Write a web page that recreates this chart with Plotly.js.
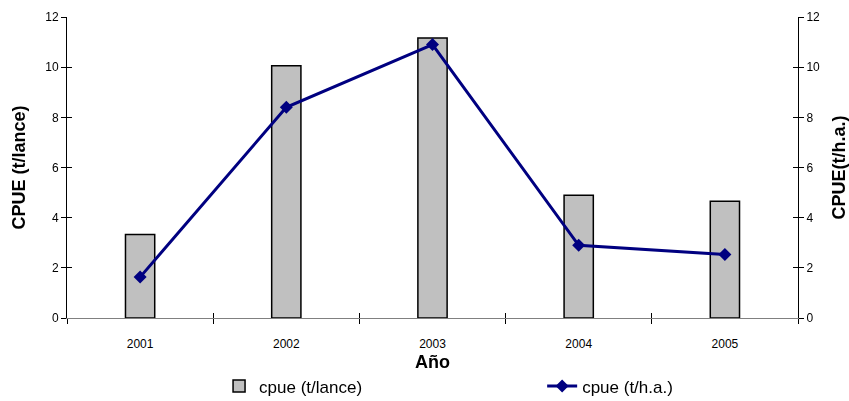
<!DOCTYPE html>
<html>
<head>
<meta charset="utf-8">
<script src="https://cdn.plot.ly/plotly-3.0.1.min.js"></script>
<style>html,body{margin:0;padding:0;background:#fff;}#chart{width:849px;height:401px;}</style>
</head>
<body>
<div id="chart"></div>
<script>
const years = ['2001', '2002', '2003', '2004', '2005'];
const cpueLance = [3.33, 10.06, 11.16, 4.89, 4.65];
const cpueHa = [1.63, 8.40, 10.90, 2.90, 2.53];
const yTicks = [0, 2, 4, 6, 8, 10, 12];

const FONT = 'Liberation Sans, Arial, sans-serif';

const traces = [
  {
    type: 'bar', name: 'cpue (t/lance)', x: years, y: cpueLance,
    xaxis: 'x', yaxis: 'y', width: 0.2, legend: 'legend',
    marker: {color: '#c0c0c0', line: {color: '#000000', width: 1.5}},
    hoverinfo: 'skip'
  },
  {
    type: 'scatter', mode: 'lines+markers', name: 'cpue (t/h.a.)', x: years, y: cpueHa,
    xaxis: 'x', yaxis: 'y2', legend: 'legend2',
    line: {color: '#000080', width: 3},
    marker: {symbol: 'diamond', size: 10, color: '#000080'},
    hoverinfo: 'skip'
  },
  {
    type: 'scatter', mode: 'markers', x: years, y: cpueLance, xaxis: 'x2', yaxis: 'y3',
    opacity: 0, showlegend: false, hoverinfo: 'skip'
  },
  {
    type: 'scatter', mode: 'markers', x: years, y: cpueHa, xaxis: 'x', yaxis: 'y4',
    opacity: 0, showlegend: false, hoverinfo: 'skip'
  }
];

const yBase = {
  range: [0, 12], tickvals: yTicks, ticktext: yTicks.map(String),
  showgrid: false, zeroline: false, fixedrange: true,
  tickfont: {family: FONT, size: 12, color: '#000'}
};

const legendBase = {
  orientation: 'h', xanchor: 'left', yanchor: 'middle', y: -0.227,
  font: {family: FONT, size: 17, color: '#000'},
  bgcolor: 'rgba(0,0,0,0)'
};

const layout = {
  width: 849, height: 401,
  margin: {l: 67, r: 51, t: 17, b: 82.5, autoexpand: false},
  paper_bgcolor: '#ffffff', plot_bgcolor: '#ffffff',
  font: {family: FONT, color: '#000'},
  showlegend: true,
  legend: Object.assign({}, legendBase, {x: 0.208}),
  legend2: Object.assign({}, legendBase, {x: 0.650}),
  xaxis: {
    type: 'category', categoryarray: years, range: [-0.5, 4.5],
    tickson: 'boundaries', ticks: 'outside', ticklen: 5, tickcolor: '#000', tickwidth: 1,
    showline: true, linecolor: '#808080', linewidth: 1,
    showgrid: false, zeroline: false, fixedrange: true,
    tickfont: {family: FONT, size: 12, color: '#000'},
    ticklabelstandoff: 15,
    title: {text: '<b>Año</b>', font: {family: FONT, size: 18, color: '#000'}, standoff: 4}
  },
  xaxis2: {
    type: 'category', categoryarray: years, range: [-0.5, 4.5], overlaying: 'x',
    tickson: 'boundaries', ticks: 'inside', ticklen: 5, tickcolor: '#000', tickwidth: 1,
    showticklabels: false, showline: false, showgrid: false, zeroline: false, fixedrange: true,
    anchor: 'y'
  },
  yaxis: Object.assign({}, yBase, {
    side: 'left', ticks: 'outside', ticklen: 5, tickcolor: '#000',
    showline: true, linecolor: '#000', linewidth: 1,
    title: {text: '<b>CPUE (t/lance)</b>', font: {family: FONT, size: 18, color: '#000'}, standoff: 14}
  }),
  yaxis2: Object.assign({}, yBase, {
    side: 'right', overlaying: 'y', anchor: 'x', ticks: 'outside', ticklen: 5, tickcolor: '#000',
    showline: true, linecolor: '#000', linewidth: 1,
    title: {text: '<b>CPUE(t/h.a.)</b>', font: {family: FONT, size: 18, color: '#000'}, standoff: 14}
  }),
  yaxis3: Object.assign({}, yBase, {
    side: 'left', overlaying: 'y', anchor: 'x2', ticks: 'inside', ticklen: 5, tickcolor: '#000',
    showticklabels: false, showline: false
  }),
  yaxis4: Object.assign({}, yBase, {
    side: 'right', overlaying: 'y', anchor: 'x', ticks: 'inside', ticklen: 5, tickcolor: '#000',
    showticklabels: false, showline: false
  })
};

Plotly.newPlot('chart', traces, layout, {displayModeBar: false, staticPlot: true});
</script>
</body>
</html>
